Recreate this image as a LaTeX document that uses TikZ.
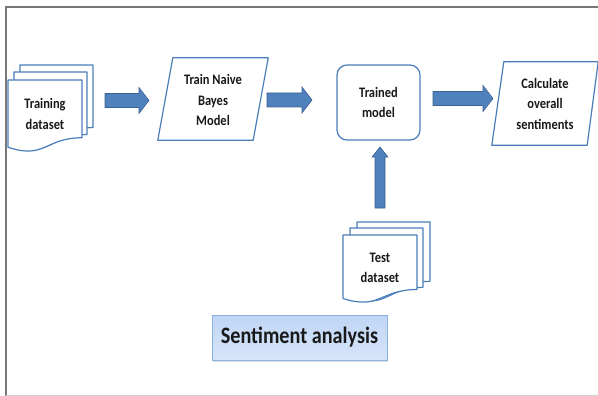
\documentclass[tikz,border=0pt]{standalone}
\usepackage{fontspec}
\setmainfont{Carlito}
\newfontfamily\condfont[FakeStretch=0.86]{Carlito}
\usetikzlibrary{calc,shadows}
\definecolor{outl}{RGB}{74,126,187}
\definecolor{arrfill}{RGB}{79,129,189}
\definecolor{arrline}{RGB}{58,98,148}
\definecolor{txt}{RGB}{25,25,25}
\definecolor{satop}{RGB}{192,214,245}
\definecolor{sabot}{RGB}{214,229,249}
\definecolor{saline}{RGB}{140,178,226}
\definecolor{framec}{RGB}{120,120,120}
\newcommand\mdoc[4]{\filldraw[shapeline] (#1,#2) -- ({#1+#3},#2) -- ({#1+#3},{#2+0.802*#4}) .. controls ({#1+0.5*#3},{#2+0.802*#4}) and ({#1+0.5*#3},{#2+1.107*#4}) .. (#1,{#2+0.934*#4}) -- cycle;}
\newcommand\harrow[2]{\filldraw[blockarrow] ($(#1)+(0,-7)$) -- ($(#2)+(-10,-7)$) -- ($(#2)+(-10,-13)$) -- (#2) -- ($(#2)+(-10,13)$) -- ($(#2)+(-10,7)$) -- ($(#1)+(0,7)$) -- cycle;}
\newcommand\varrow[2]{\filldraw[blockarrow] ($(#1)+(-5,0)$) -- ($(#2)+(-5,10)$) -- ($(#2)+(-8,10)$) -- (#2) -- ($(#2)+(8,10)$) -- ($(#2)+(5,10)$) -- ($(#1)+(5,0)$) -- cycle;}
\begin{document}
\begin{tikzpicture}[x=1pt,y=-1pt,
  shapeline/.style={draw=outl, line width=1.2pt, fill=white, line join=round},
  lbl/.style={font=\condfont\fontsize{14.5}{20.5}\selectfont\bfseries, text=txt, align=center, inner sep=0pt},
  blockarrow/.style={fill=arrfill, draw=arrline, line width=0.6pt, line join=miter}]
\useasboundingbox (0,0) rectangle (598,396);
\fill[white] (0,0) rectangle (598,396);
% frame
\draw[framec, line width=2.2pt] (5,7) -- (598,7);
\draw[framec, line width=2.5pt] (6,6) -- (6,396);
\draw[gray!35, line width=0.8pt] (6,395) -- (598,395);
% training dataset (multi-document)
\mdoc{20}{65}{73}{78}
\mdoc{14}{72}{73}{78}
\mdoc{8}{80}{74}{72}
\node[lbl] (trainset) at (45,114) {Training\\dataset};
% test dataset
\mdoc{357}{222}{73}{74}
\mdoc{350}{228}{73}{74}
\mdoc{343}{235}{74}{68}
\node[lbl] (testset) at (380,268) {Test\\dataset};
% train naive bayes
\node[lbl, minimum width=110, minimum height=82] (trainnb) at (213,100) {Train Naive\\Bayes\\Model};
\draw[shapeline, fill=none] ($(trainnb.north west)+(15,-1)$) -- ($(trainnb.north east)+(0,-1)$) -- ($(trainnb.south east)+(-15,-1)$) -- ($(trainnb.south west)+(0,-1)$) -- cycle;
% trained model
\node[lbl, draw=outl, line width=1.2pt, rounded corners=10pt, minimum width=83, minimum height=75] (trained) at (378.5,102.5) {Trained\\model};
% calculate
\node[lbl, minimum width=106, minimum height=83] (calc) at (545,103.5) {Calculate\\overall\\sentiments};
\draw[shapeline, fill=none] ($(calc.north west)+(12,0)$) -- (calc.north east) -- ($(calc.south east)+(-11,0)$) -- (calc.south west) -- cycle;
% sentiment analysis
\node[draw=saline, line width=0.8pt, top color=satop, bottom color=sabot, minimum width=175, minimum height=45, inner sep=0pt, font=\condfont\fontsize{23.5}{26}\selectfont\bfseries, text=txt, drop shadow={opacity=0.25, shadow xshift=1pt, shadow yshift=-1.5pt}] (sa) at (299.5,337.5) {Sentiment analysis};
% arrows
\coordinate (a1s) at (105,100.5); \coordinate (a1e) at (149,100.5);
\coordinate (a2s) at (267,100); \coordinate (a2e) at (312,100);
\coordinate (a3s) at (433,98.5); \coordinate (a3e) at (493,98.5);
\coordinate (a4s) at (380,208); \coordinate (a4e) at (380,147);
\harrow{a1s}{a1e}
\harrow{a2s}{a2e}
\harrow{a3s}{a3e}
\varrow{a4s}{a4e}
\end{tikzpicture}
\end{document}
